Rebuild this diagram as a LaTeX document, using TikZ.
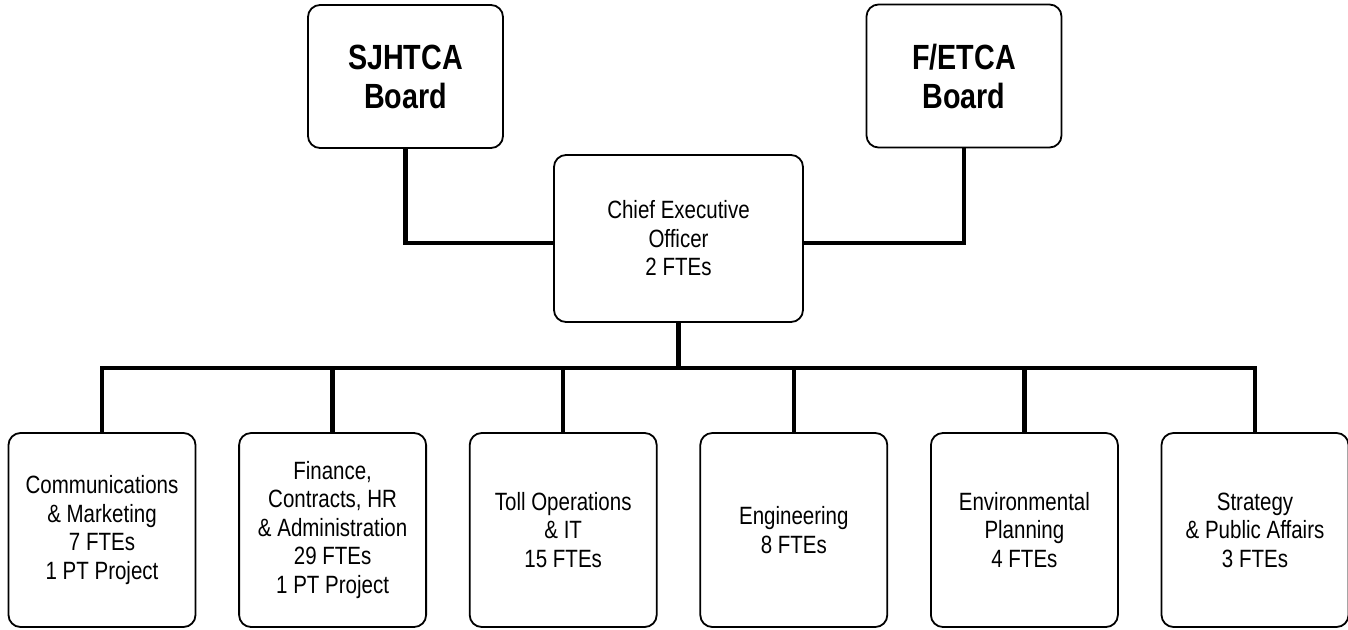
\documentclass[tikz,border=0pt]{standalone}
\usepackage{fontspec}
\setmainfont[FakeStretch=0.82]{Liberation Sans}
\begin{document}
\begin{tikzpicture}[x=1pt,y=1pt,
  box/.style={draw=black, line width=1.8pt, rounded corners=12pt, fill=white,
    inner sep=0pt, align=center, text=black},
  boardbox/.style={box, minimum width=195pt, minimum height=143pt,
    font=\fontsize{35}{39}\selectfont\bfseries},
  ceobox/.style={box, minimum width=249pt, minimum height=167pt,
    font=\fontsize{25}{28.5}\selectfont},
  deptbox/.style={box, minimum width=187pt, minimum height=194pt,
    font=\fontsize{25}{28.5}\selectfont},
  conn/.style={line width=4.5pt, draw=black}]
\useasboundingbox (0,0) rectangle (1348,-629);
\fill[white] (0,0) rectangle (1348,-629);

\node[boardbox] (sj) at (405.5,-76.5) {SJHTCA\\Board};
\node[boardbox] (fe) at (964,-76) {F/ETCA\\Board};
\node[ceobox] (ceo) at (678.5,-238.5) {Chief Executive\\Officer\\2 FTEs};

\node[deptbox] (d1) at (102,-530) {Communications\\\& Marketing\\7 FTEs\\1 PT Project};
\node[deptbox] (d2) at (332.6,-530) {Finance,\\Contracts, HR\\\& Administration\\29 FTEs\\1 PT Project};
\node[deptbox] (d3) at (563.2,-530) {Toll Operations\\\& IT\\15 FTEs};
\node[deptbox] (d4) at (793.8,-530) {Engineering\\8 FTEs};
\node[deptbox] (d5) at (1024.4,-530) {Environmental\\Planning\\4 FTEs};
\node[deptbox] (d6) at (1255,-530) {Strategy\\\& Public Affairs\\3 FTEs};

\coordinate (bus) at (0,-368);

\draw[conn, line join=miter] (sj.south) |- ([yshift=-4.5pt]ceo.west);
\draw[conn, line join=miter] (fe.south) |- ([yshift=-4.5pt]ceo.east);
\draw[conn] (ceo.south) -- (ceo.south |- bus);
\draw[conn, line cap=rect] (d1.north |- bus) -- (d6.north |- bus);
\foreach \d in {d1,d2,d3,d4,d5,d6}{
  \draw[conn] (\d.north) -- (\d.north |- bus);
}
\end{tikzpicture}
\end{document}
